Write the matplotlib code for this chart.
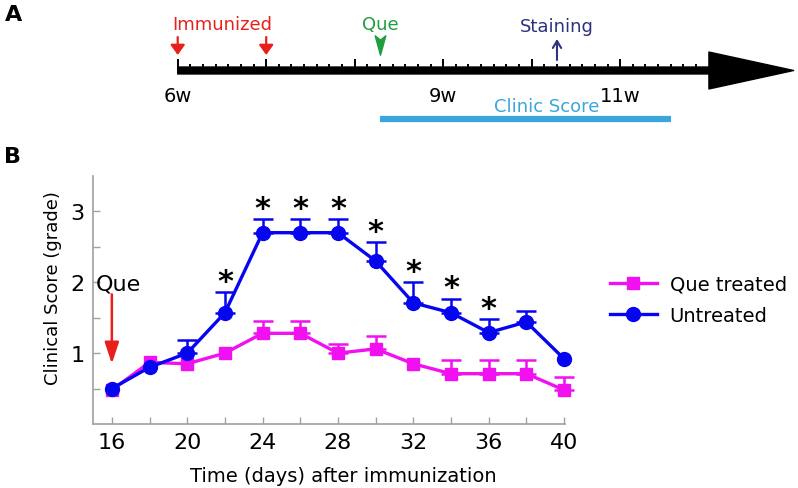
import matplotlib
matplotlib.use('Agg')
import matplotlib.pyplot as plt
import numpy as np
from matplotlib.path import Path

# ---- panel B data (clinical score) ----
days = [16, 18, 20, 22, 24, 26, 28, 30, 32, 34, 36, 38, 40]
untreated = [0.5, 0.8, 1.0, 1.57, 2.7, 2.7, 2.7, 2.3, 1.71, 1.57, 1.29, 1.44, 0.92]
untreated_err = [0, 0, 0.19, 0.29, 0.19, 0.19, 0.19, 0.27, 0.29, 0.2, 0.19, 0.16, 0]
que_treated = [0.48, 0.87, 0.85, 1.0, 1.28, 1.28, 1.0, 1.06, 0.85, 0.71, 0.71, 0.71, 0.48]
que_err = [0, 0, 0, 0, 0.18, 0.18, 0.13, 0.18, 0, 0.19, 0.19, 0.19, 0.19]
sig_days = [22, 24, 26, 28, 30, 32, 34, 36]
que_day = 16

# ---- panel A data (timeline, weeks) ----
timeline_start = 6
timeline_end = 12
week_labels = [6, 9, 11]
immunized_weeks = [6, 7]
que_week = 8 + 2 / 7
staining_week = 10 + 2 / 7
score_start, score_end = 8 + 2 / 7, 11 + 4 / 7

blue = '#0505f0'
magenta = '#f010f0'
red = '#e8201c'

fig = plt.figure(figsize=(7.98, 4.89), dpi=100)

# ---------------- panel A ----------------
ax_a = fig.add_axes([0, 0, 1, 1])
px_per_week = 88.5
ax_a.set_xlim(6 - 177.7 / px_per_week, 6 + (798 - 177.7) / px_per_week)
ax_a.set_ylim(489, 0)
ax_a.axis('off')

all_days = np.arange(timeline_start * 7, timeline_end * 7) / 7
minor = all_days[np.arange(len(all_days)) % 7 != 0]
major = all_days[np.arange(len(all_days)) % 7 == 0]
ax_a.vlines(minor, 65, 70, color='k', lw=1.4)
ax_a.vlines(major, 60, 70, color='k', lw=1.4)

ax_a.annotate('', xy=(timeline_end + 0.96, 71.5), xytext=(timeline_start, 71.5),
              arrowprops=dict(arrowstyle='simple,head_length=6.1,head_width=2.66,tail_width=0.5',
                              mutation_scale=10, color='k', shrinkA=0, shrinkB=0))

for w in week_labels:
    ax_a.text(w, 96, f"{w}w", ha='center', va='center', fontsize=14)

for w in immunized_weeks:
    ax_a.annotate('', xy=(w, 56), xytext=(w, 38),
                  arrowprops=dict(arrowstyle='-|>,head_length=0.6,head_width=0.43',
                                  mutation_scale=10, color=red, lw=1.6, shrinkA=0, shrinkB=0))
ax_a.text(np.mean(immunized_weeks), 25, 'Immunized', color=red, ha='center', va='center', fontsize=13)

dart = Path([(0, -1), (-0.55, 1), (0, 0.55), (0.55, 1), (0, -1)],
            [Path.MOVETO, Path.LINETO, Path.LINETO, Path.LINETO, Path.CLOSEPOLY])
ax_a.plot([que_week], [46], marker=dart, ms=14, color='#1f9e3f', ls='none')
ax_a.text(que_week, 25, 'Que', color='#1f9e3f', ha='center', va='center', fontsize=13)

ax_a.annotate('', xy=(staining_week, 40), xytext=(staining_week, 61),
              arrowprops=dict(arrowstyle='->,head_length=0.5,head_width=0.3',
                              mutation_scale=10, color='#2d3180', lw=1.5, shrinkA=0, shrinkB=0))
ax_a.text(staining_week, 27, 'Staining', color='#2d3180', ha='center', va='center', fontsize=13)

ax_a.hlines(120, score_start, score_end, color='#3ba6dc', lw=4.5)
ax_a.text(10.17, 107, 'Clinic Score', color='#3ba6dc', ha='center', va='center', fontsize=13)

fig.text(14 / 798, 1 - 15 / 489, 'A', fontsize=16, fontweight='bold', ha='center', va='center')
fig.text(13 / 798, 1 - 157 / 489, 'B', fontsize=16, fontweight='bold', ha='center', va='center')

# ---------------- panel B ----------------
ax = fig.add_axes([93 / 798, 64 / 489, 472 / 798, 248 / 489])
ax.set_xlim(15, 40.05)
ax.set_ylim(0, 3.5)


def upper_errorbars(y, err, color, z):
    idx = [i for i, e in enumerate(err) if e > 0]
    xs = [days[i] for i in idx]
    ys = [y[i] for i in idx]
    es = [err[i] for i in idx]
    ax.errorbar(xs, ys, yerr=[np.zeros(len(es)), es], fmt='none', ecolor=color,
                elinewidth=1.8, capsize=7, capthick=1.8, zorder=z, clip_on=False)


upper_errorbars(que_treated, que_err, magenta, 2)
ax.plot(days, que_treated, '-s', color=magenta, lw=2.4, ms=9, label='Que treated',
        zorder=3, clip_on=False)
upper_errorbars(untreated, untreated_err, blue, 4)
ax.plot(days, untreated, '-o', color=blue, lw=2.4, ms=10, label='Untreated',
        zorder=5, clip_on=False)

for d in sig_days:
    i = days.index(d)
    ax.text(d, untreated[i] + untreated_err[i] + 0.03, '*', ha='center', va='baseline',
            fontsize=22, fontweight='bold', zorder=6)

ax.annotate('', xy=(que_day, 0.85), xytext=(que_day, 1.83),
            arrowprops=dict(arrowstyle='-|>,head_length=1.3,head_width=0.43',
                            mutation_scale=10, color=red, lw=1.8, shrinkA=0, shrinkB=0))
ax.text(que_day + 0.35, 1.9, 'Que', ha='center', va='baseline', fontsize=16)

ax.spines['top'].set_visible(False)
ax.spines['right'].set_visible(False)
for s in ['left', 'bottom']:
    ax.spines[s].set_color('#a0a0a0')
    ax.spines[s].set_linewidth(1.2)

ax.set_xticks(days)
ax.set_xticklabels([str(d) if d % 4 == 0 else '' for d in days])
yt = [0.5, 1, 1.5, 2, 2.5, 3]
ax.set_yticks(yt)
ax.set_yticklabels([str(int(v)) if v == int(v) else '' for v in yt])
ax.tick_params(direction='in', length=5, width=1, color='#a0a0a0', labelsize=16, pad=6)

ax.set_xlabel('Time (days) after immunization', fontsize=14)
ax.xaxis.set_label_coords(0.53, -0.168)
ax.set_ylabel('Clinical Score (grade)', fontsize=13)
ax.yaxis.set_label_coords(-0.066, 0.554)

fig.legend(loc='center left', bbox_to_anchor=(610 / 798, 1 - 301 / 489), frameon=False,
           fontsize=14, handlelength=2.4, handletextpad=0.67, labelspacing=0.63,
           borderpad=0, borderaxespad=0)

fig.savefig('out.png', dpi=100)
